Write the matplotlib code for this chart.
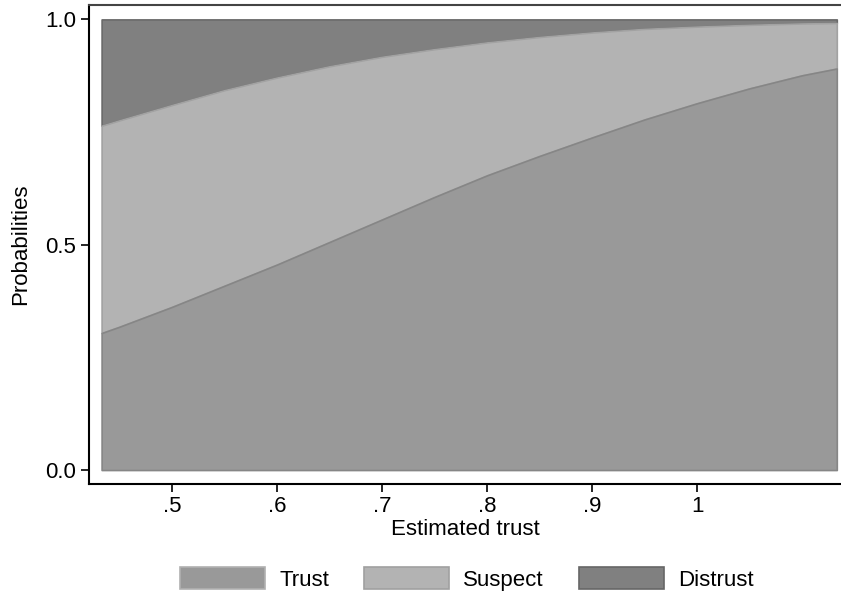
import matplotlib
matplotlib.use('Agg')
import matplotlib.pyplot as plt
import numpy as np
from matplotlib.patches import Patch

plt.rcParams['font.family'] = ['Liberation Sans', 'DejaVu Sans']

# predicted probabilities
est_trust = [0.433, 0.45, 0.5, 0.55, 0.6, 0.65, 0.7, 0.75, 0.8, 0.85,
             0.9, 0.95, 1.0, 1.05, 1.1, 1.133]
p_trust = [0.304, 0.318, 0.362, 0.409, 0.456, 0.506, 0.556, 0.606, 0.654,
           0.697, 0.738, 0.778, 0.814, 0.847, 0.876, 0.891]
p_suspect = [0.460, 0.458, 0.448, 0.434, 0.415, 0.390, 0.361, 0.328, 0.295,
             0.264, 0.233, 0.201, 0.170, 0.141, 0.115, 0.101]
p_distrust = [0.236, 0.224, 0.190, 0.157, 0.129, 0.104, 0.083, 0.066, 0.051,
              0.039, 0.029, 0.021, 0.016, 0.012, 0.009, 0.008]

labels = ['Trust', 'Suspect', 'Distrust']
fills = ['#999999', '#b3b3b3', '#808080']
edges = ['#868686', '#a2a2a2', '#6a6a6a']
legend_edges = ['#b0b0b0', '#a0a0a0', '#666666']

x_ticks = [0.5, 0.6, 0.7, 0.8, 0.9, 1.0]
x_ticklabels = ['.5', '.6', '.7', '.8', '.9', '1']
y_ticks = [0.0, 0.5, 1.0]
y_ticklabels = ['0.0', '0.5', '1.0']

fig = plt.figure(figsize=(8.41, 5.97), dpi=100)
ax = fig.add_axes([89 / 841, 1 - 484 / 597, 752 / 841, 479 / 597])

x = np.array(est_trust)
series = [np.array(p_trust), np.array(p_suspect), np.array(p_distrust)]
tops = np.cumsum(series, axis=0)
bottoms = np.vstack([np.zeros_like(x), tops[:-1]])

# draw top layer first so lower boundaries sit on top
for i in reversed(range(3)):
    ax.fill_between(x, bottoms[i], tops[i], facecolor=fills[i],
                    edgecolor=edges[i], linewidth=1.2, zorder=2 + (2 - i))

ax.set_xlim(0.421, 1.137)
ax.set_ylim(-0.031, 1.032)

ax.set_xticks(x_ticks)
ax.set_xticklabels(x_ticklabels)
ax.set_yticks(y_ticks)
ax.set_yticklabels(y_ticklabels)
ax.tick_params(axis='both', direction='out', length=6, width=1.2,
               labelsize=16, color='black', pad=3)

for side in ['left', 'bottom']:
    ax.spines[side].set_linewidth(1.5)
    ax.spines[side].set_color('black')
ax.spines['top'].set_color('#444444')
ax.spines['top'].set_linewidth(1.5)
ax.spines['right'].set_visible(False)

ax.set_xlabel('Estimated trust', fontsize=16, labelpad=1)
ax.set_ylabel('Probabilities', fontsize=16, labelpad=10)

handles = [Patch(facecolor=fills[i], edgecolor=legend_edges[i], linewidth=1.2)
           for i in range(3)]
fig.legend(handles, labels, loc='center', bbox_to_anchor=(467 / 841, 1 - 579 / 597),
           ncol=3, frameon=False, fontsize=16, handlelength=3.83,
           handleheight=1.08, handletextpad=0.63, columnspacing=1.58)

fig.savefig('out.png', dpi=100)
